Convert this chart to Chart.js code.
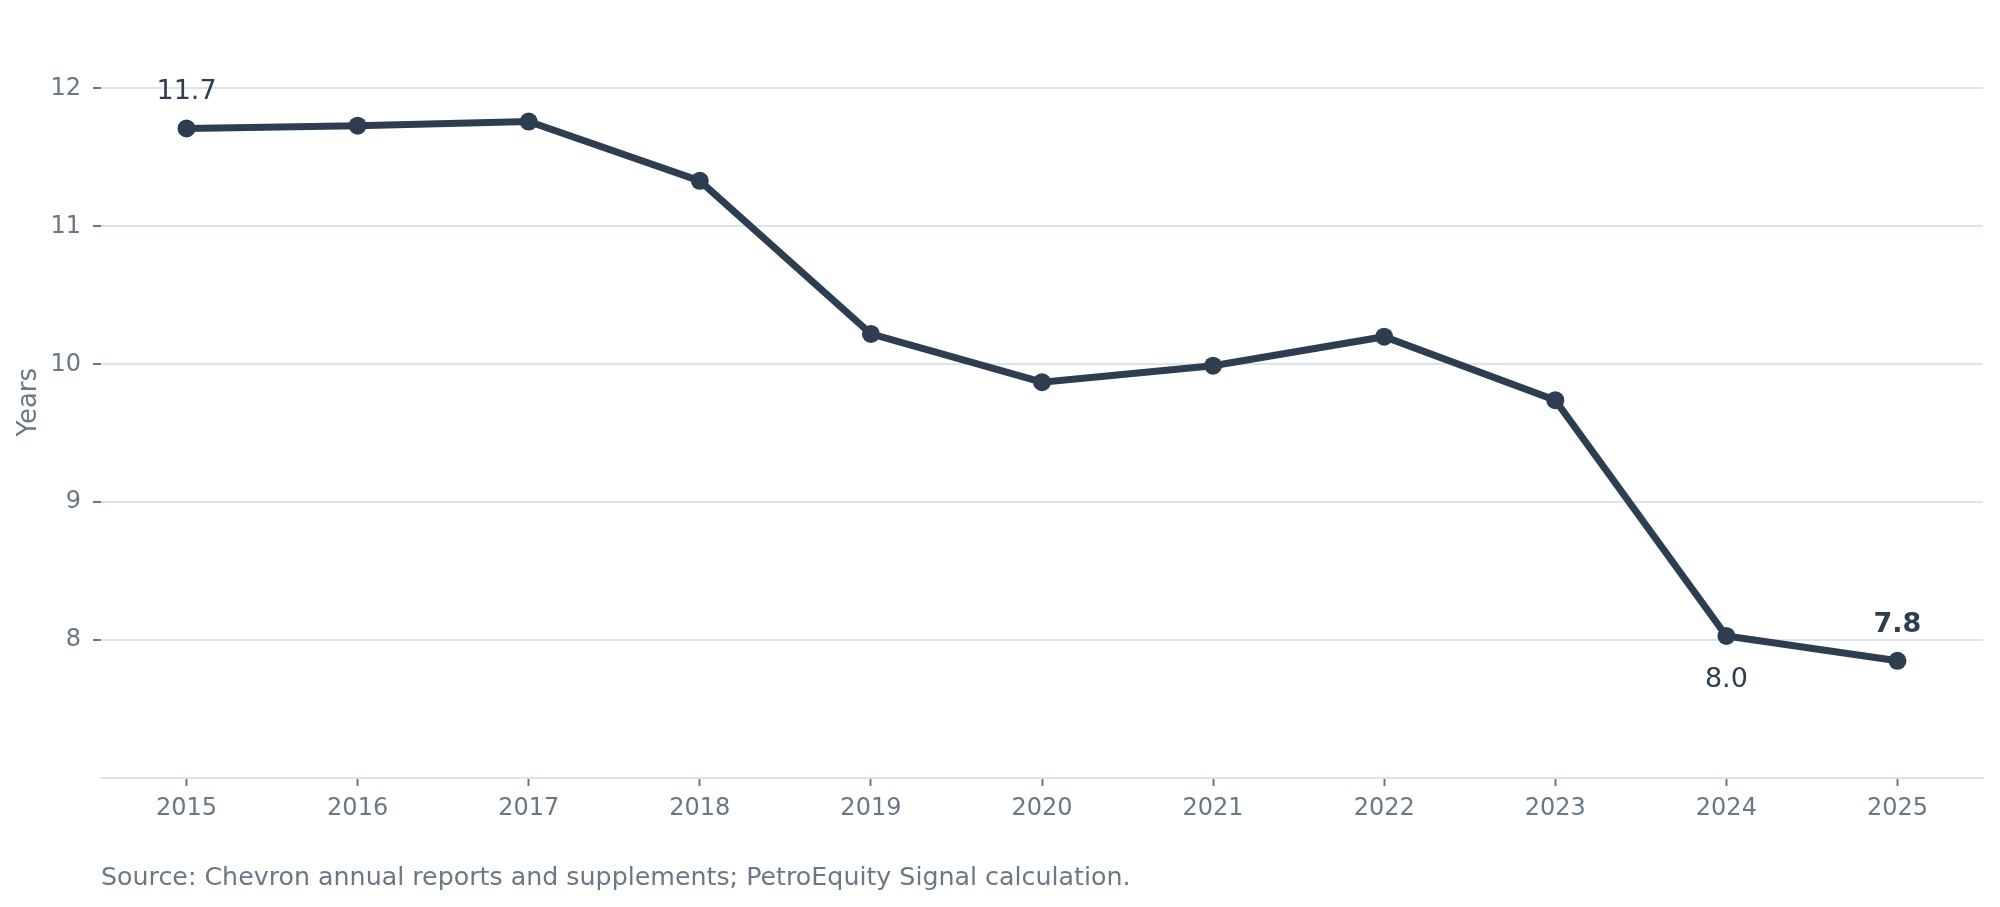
<!DOCTYPE html>
<html>
<head>
<meta charset="utf-8">
<script src="https://cdn.jsdelivr.net/npm/chart.js@4.4.1/dist/chart.umd.min.js"></script>
<style>
  html, body { margin: 0; padding: 0; background: #ffffff; }
  #wrap { width: 2000px; height: 907px; }
</style>
</head>
<body>
<div id="wrap"><canvas id="c" width="2000" height="907"></canvas></div>
<script>
const years = ['2015','2016','2017','2018','2019','2020','2021','2022','2023','2024','2025'];
const reserveLife = [11.71, 11.73, 11.76, 11.33, 10.22, 9.87, 9.99, 10.20, 9.74, 8.03, 7.85];
const yTickValues = [8, 9, 10, 11, 12];
const axisTitle = 'Years';
const sourceNote = 'Source: Chevron annual reports and supplements; PetroEquity Signal calculation.';

const FONT = "'DejaVu Sans', Verdana, sans-serif";
const LINE = '#2c3e50';
const MUTED = '#6a7886';
const GRID = '#dde3ea';

const annotatePlugin = {
  id: 'annotate',
  afterDatasetsDraw(chart) {
    const ctx = chart.ctx;
    const pts = chart.getDatasetMeta(0).data;
    const items = [
      { i: 0, dy: -36, bold: false },
      { i: 9, dy: 44, bold: false },
      { i: 10, dy: -36, bold: true }
    ];
    ctx.save();
    ctx.fillStyle = LINE;
    ctx.textAlign = 'center';
    ctx.textBaseline = 'middle';
    items.forEach(it => {
      const p = pts[it.i];
      ctx.font = (it.bold ? 'bold ' : '') + '27px ' + FONT;
      ctx.fillText(reserveLife[it.i].toFixed(1), p.x, p.y + it.dy);
    });
    ctx.font = '25.3px ' + FONT;
    ctx.fillStyle = MUTED;
    ctx.textAlign = 'left';
    ctx.fillText(sourceNote, chart.chartArea.left, chart.chartArea.bottom + 100);
    ctx.restore();
  }
};

new Chart(document.getElementById('c'), {
  type: 'line',
  data: {
    labels: years,
    datasets: [{
      data: reserveLife,
      borderColor: LINE,
      backgroundColor: LINE,
      borderWidth: 7,
      tension: 0,
      pointRadius: 9,
      pointBorderWidth: 0,
      pointBackgroundColor: LINE,
      pointHoverRadius: 9,
      fill: false
    }]
  },
  options: {
    responsive: false,
    devicePixelRatio: 1,
    animation: false,
    layout: { padding: { top: 11, right: 17, left: 0, bottom: 0 } },
    plugins: {
      legend: { display: false },
      tooltip: { enabled: false }
    },
    scales: {
      x: {
        type: 'category',
        offset: true,
        grid: {
          display: true,
          drawOnChartArea: false,
          drawTicks: true,
          tickLength: 8,
          tickColor: MUTED,
          tickWidth: 2
        },
        border: { display: true, color: GRID, width: 2 },
        ticks: {
          color: MUTED,
          font: { family: FONT, size: 24 },
          padding: 8,
          maxRotation: 0
        },
        afterFit(scale) { scale.height = 129; }
      },
      y: {
        min: 7,
        max: 12.45,
        afterBuildTicks(scale) {
          scale.ticks = yTickValues.map(v => ({ value: v }));
        },
        grid: {
          color: GRID,
          lineWidth: 2,
          drawTicks: true,
          tickLength: 8,
          tickColor: MUTED,
          tickWidth: 2
        },
        border: { display: false },
        ticks: {
          color: MUTED,
          font: { family: FONT, size: 24 },
          padding: 12
        },
        title: {
          display: true,
          text: axisTitle,
          color: MUTED,
          font: { family: FONT, size: 26 },
          padding: { top: 14, bottom: 0 }
        },
        afterFit(scale) { scale.width = 101; }
      }
    }
  },
  plugins: [annotatePlugin]
});
</script>
</body>
</html>
